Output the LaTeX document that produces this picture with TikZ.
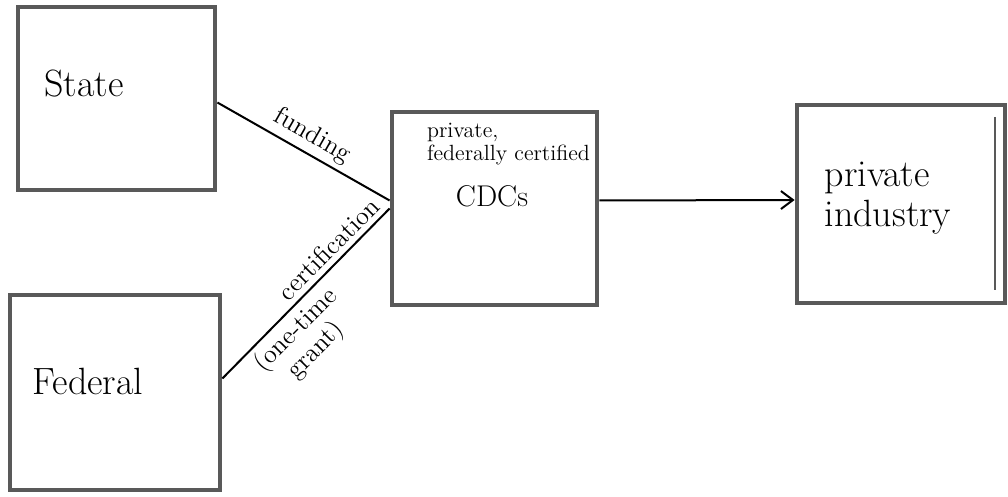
\documentclass[tikz,border=0pt]{standalone}
\usetikzlibrary{arrows.meta}
\tikzset{
  box/.style={draw=black!65, line width=2.4pt, minimum width=#1, inner sep=0pt},
  boxtext/.style={font=\fontsize{19}{20}\selectfont, align=left},
  linktext/.style={font=\fontsize{13}{13}\selectfont, align=center, inner sep=2.5pt},
  link/.style={line width=1pt, black}
}
\begin{document}
\begin{tikzpicture}[x=0.5pt, y=-0.5pt]
    \useasboundingbox (0,0) rectangle (1008,497);

    % Boxes
    \node[box=98.5pt, minimum height=91.5pt] (state) at (116.5, 98.5) {};
    \node[box=105pt, minimum height=97.5pt] (federal) at (115, 392.5) {};
    \node[box=102.5pt, minimum height=96.5pt] (cdc) at (494.5, 208.5) {};
    \node[box=104pt, minimum height=99pt] (industry) at (901, 204) {};

    % Texts inside the boxes
    \node[boxtext] (statetext) at (84, 84) {State};
    \node[boxtext] (federaltext) at (88, 381) {Federal};
    \node[font=\fontsize{11}{11.5}\selectfont, align=left, anchor=north west] (cdctext)
        at (420, 116) {private,\\federally certified};
    \node[font=\fontsize{15}{16}\selectfont, anchor=north] (cdcname)
        at (492, 178) {CDCs};
    \node[boxtext] (industrytext) at (888, 198) {private\\industry};

    % Inner stroke on the right of the industry box
    \coordinate (inA) at (995, 117);
    \coordinate (inB) at (995, 290);
    \draw[black!65, line width=1pt] (inA) -- (inB);

    % Connectors
    \draw[link] ([yshift=-2pt]state.east) -- node[linktext, above, sloped] {funding} ([yshift=4pt]cdc.west);
    \draw[link] ([yshift=7pt]federal.east) --
        node[linktext, above, sloped, pos=0.7] {certification}
        node[linktext, below, sloped, pos=0.36] {(one-time\\grant)}
        ([yshift=0pt]cdc.west);
    \draw[link, -{Straight Barb[length=6pt, width=9pt]}] ([yshift=4pt]cdc.east) -- ([yshift=2pt]industry.west);
\end{tikzpicture}
\end{document}
